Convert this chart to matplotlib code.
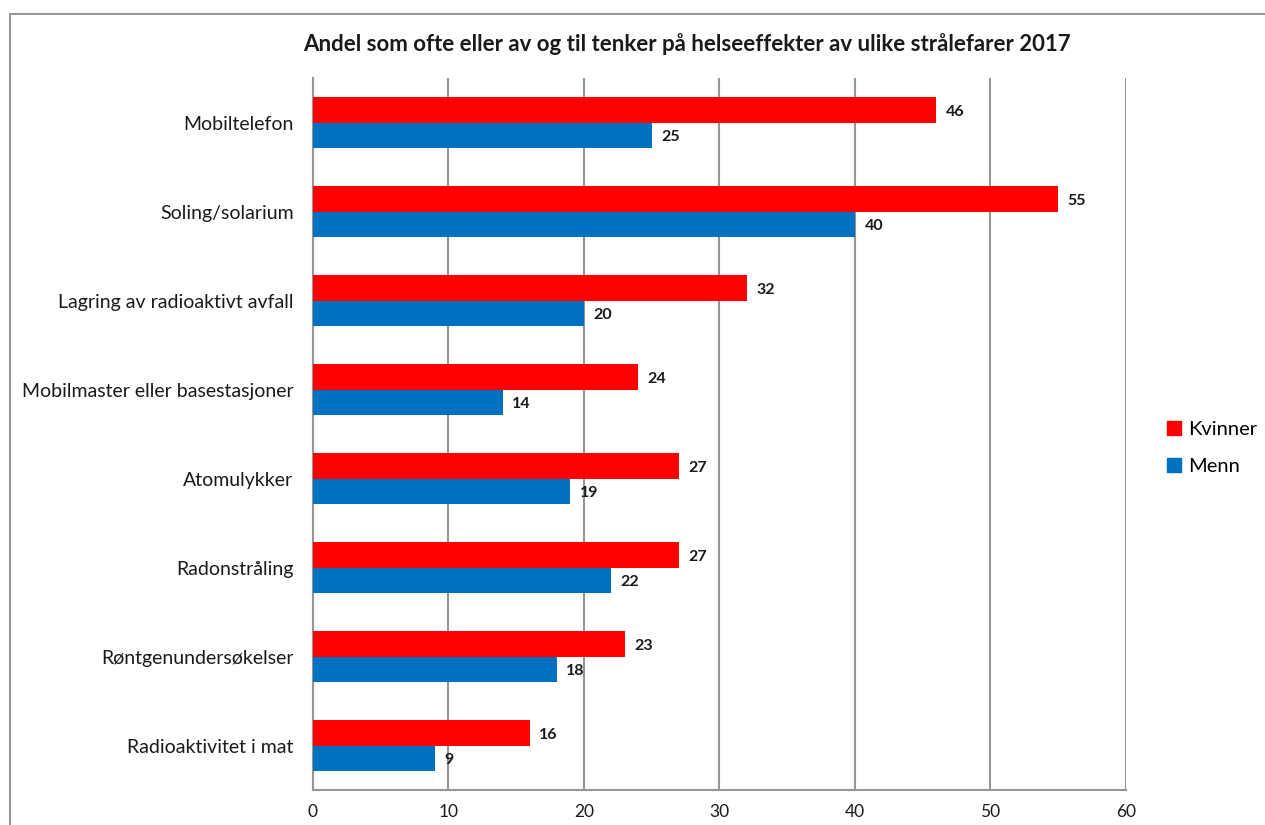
import matplotlib.pyplot as plt
import numpy as np
from matplotlib.patches import Rectangle
from matplotlib.lines import Line2D

plt.rcParams['font.family'] = ['Lato', 'DejaVu Sans']

categories = ['Mobiltelefon', 'Soling/solarium', 'Lagring av radioaktivt avfall',
              'Mobilmaster eller basestasjoner', 'Atomulykker', 'Radonstråling',
              'Røntgenundersøkelser', 'Radioaktivitet i mat']
kvinner = [46, 55, 32, 24, 27, 27, 23, 16]
menn = [25, 40, 20, 14, 19, 22, 18, 9]
xticks = [0, 10, 20, 30, 40, 50, 60]

red = '#FF0000'
blue = '#0070C0'
grey = '#969696'

fig = plt.figure(figsize=(12.65, 8.25), dpi=100)
ax = fig.add_axes([0.2474, 0.0424, 0.6427, 0.8630])

n = len(categories)
y = np.arange(n)
h = 0.287
ax.barh(y - h / 2, kvinner, height=h, color=red, label='Kvinner', zorder=3)
ax.barh(y + h / 2, menn, height=h, color=blue, label='Menn', zorder=3)

for i in range(n):
    ax.text(kvinner[i] + 0.7, y[i] - h / 2 + 0.02, str(kvinner[i]), ha='left', va='center',
            fontsize=11.5, fontweight='bold', color='#1a1a1a')
    ax.text(menn[i] + 0.7, y[i] + h / 2 + 0.02, str(menn[i]), ha='left', va='center',
            fontsize=11.5, fontweight='bold', color='#1a1a1a')

ax.set_xlim(0, 60)
ax.set_ylim(n - 0.5, -0.5)
ax.set_xticks(xticks)
ax.set_yticks(y)
ax.set_yticklabels(categories, fontsize=14, color='#1a1a1a')
ax.tick_params(axis='x', labelsize=12.5, colors='#1a1a1a', length=0, pad=10)
ax.tick_params(axis='y', length=0, pad=14)
ax.xaxis.grid(True, color=grey, linewidth=1.5, zorder=0)
for s in ['top', 'right']:
    ax.spines[s].set_visible(False)
for s in ['left', 'bottom']:
    ax.spines[s].set_color(grey)
    ax.spines[s].set_linewidth(1.5)

fig.text(0.543, 0.947, 'Andel som ofte eller av og til tenker på helseeffekter av ulike strålefarer 2017',
         ha='center', va='center', fontsize=16, fontweight='bold', color='#1a1a1a')

handles = [Line2D([], [], marker='s', linestyle='', color=red, markersize=9.5),
           Line2D([], [], marker='s', linestyle='', color=blue, markersize=9.5)]
fig.legend(handles, ['Kvinner', 'Menn'], loc='center left', bbox_to_anchor=(0.909, 0.457),
           frameon=False, fontsize=14.5, handletextpad=0.2, labelspacing=0.95, handlelength=1.0,
           borderpad=0.2)

# outer chart frame
fig.add_artist(Rectangle((10 / 1265, -0.1), 1.2, (825 - 14) / 825 + 0.1, transform=fig.transFigure,
                         fill=False, edgecolor=grey, linewidth=1.5))

fig.savefig('out.png', dpi=100)
